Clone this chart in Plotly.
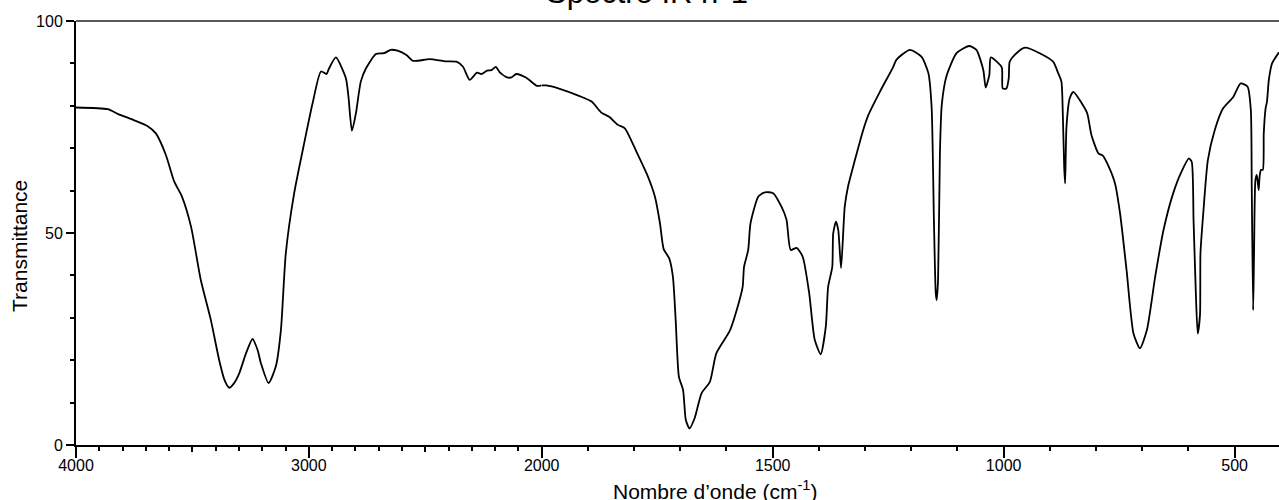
import numpy as np
import plotly.graph_objects as go

# Wavenumber (cm-1) and transmittance (%)
wavenumber = [
    4000, 3864, 3821, 3764, 3692, 3657, 3614, 3578, 3545, 3506, 3464, 3421, 3385, 3362,
    3342, 3321, 3299, 3270, 3242, 3220, 3206, 3173, 3142, 3120, 3099, 3063, 3020, 2984,
    2948, 2924, 2915, 2884, 2841, 2830, 2815, 2798, 2777, 2755, 2712, 2677, 2648, 2619,
    2581, 2552, 2481, 2416, 2366, 2338, 2309, 2278, 2259, 2235, 2216, 2197, 2180, 2149,
    2130, 2109, 2066, 2020, 2000,
    1990, 1961, 1918, 1892, 1871, 1854, 1835, 1820, 1795, 1770, 1755, 1744, 1736, 1724,
    1716, 1710, 1703, 1694, 1688, 1680, 1669, 1654, 1636, 1622, 1593, 1578, 1565, 1562,
    1553, 1548, 1531, 1517, 1499, 1481, 1470, 1461, 1448, 1435, 1421, 1409, 1396, 1385,
    1380, 1371, 1369, 1363, 1358, 1352, 1344, 1337, 1322, 1304, 1293, 1268, 1239, 1232,
    1203, 1178, 1163, 1156, 1151, 1147, 1145, 1142, 1138, 1134, 1124, 1102, 1075, 1059,
    1044, 1039, 1031, 1028, 1015, 1004, 1002, 994, 989, 987, 976, 954, 922, 893,
    882, 875, 872, 869, 867, 864, 857, 849, 831, 819, 810, 795, 785, 774,
    759, 748, 734, 719, 705, 690, 672, 654, 633, 615, 599, 593, 589, 584,
    580, 575, 574, 568, 558, 543, 525, 503, 487, 472, 465, 463, 460, 458,
    455, 452, 448, 446, 443, 439, 437, 433, 430, 426, 419, 404,
]
transmittance = [
    79.6, 79.2, 78.1, 76.9, 75.2, 73.5, 68.4, 62.1, 58.6, 51.5, 38.9, 29.5, 20.0, 15.3,
    13.5, 14.6, 16.9, 21.6, 25.0, 22.4, 19.3, 14.6, 18.5, 27.1, 45.2, 59.4, 71.2, 80.6,
    88.1, 87.5, 88.6, 91.4, 86.5, 82.2, 74.1, 78.2, 85.7, 88.8, 92.2, 92.4, 93.2, 93.0,
    92.0, 90.6, 91.0, 90.5, 90.4, 89.2, 86.1, 87.8, 87.5, 88.3, 88.4, 89.2, 87.9, 86.7,
    86.7, 87.5, 86.6, 84.7, 84.8,
    84.8, 84.0, 82.3, 81.0, 78.4, 77.4, 75.5, 74.7, 69.2, 63.3, 58.6, 52.3, 46.2, 44.0,
    39.7, 29.5, 16.1, 13.0, 5.9, 3.9, 6.3, 12.2, 14.9, 21.6, 26.9, 31.8, 37.3, 42.0,
    46.0, 52.3, 58.6, 59.6, 59.4, 56.2, 53.1, 46.0, 46.5, 44.4, 35.8, 24.8, 21.4, 27.9,
    37.3, 42.0, 49.9, 52.7, 50.7, 41.7, 56.2, 60.9, 67.2, 74.3, 77.8, 83.3, 89.2, 90.9,
    93.2, 91.6, 87.7, 79.8, 53.1, 35.8, 34.2, 38.9, 68.8, 80.2, 86.9, 92.4, 94.1, 93.2,
    88.4, 84.3, 87.3, 91.4, 90.4, 89.0, 84.1, 84.1, 86.5, 90.4, 92.0, 93.7, 92.4, 90.4,
    87.7, 85.7, 78.2, 65.6, 61.7, 75.1, 81.8, 83.3, 80.6, 78.2, 73.1, 68.8, 68.2, 66.0,
    61.7, 54.6, 41.3, 26.3, 22.8, 27.1, 39.7, 50.7, 59.4, 64.5, 67.6, 66.8, 53.1, 35.8,
    26.3, 30.7, 45.2, 54.6, 67.2, 74.3, 79.4, 82.1, 85.3, 84.5, 79.0, 60.9, 31.8, 45.2,
    62.5, 63.7, 60.1, 63.3, 64.9, 64.9, 73.5, 79.4, 81.0, 86.1, 90.0, 92.6,
]

left_ticks = [4000, 3000]
left_mid_ticks = [3500, 2500]
break_point = 2000
x_end = 404

title_text = "Spectre IR n°1"
x_title = "Nombre d’onde (cm<sup>-1</sup>)"
y_title = "Transmittance"

W, H = 1279, 500
ML, MR, MT, MB = 76, 0, 21, 55
plot_w = W - ML - MR
split = (541.7 - ML) / plot_w

w = np.array(wavenumber, dtype=float)
t = np.array(transmittance, dtype=float)
lm = w >= break_point
rm = w <= break_point

FONT = "Liberation Sans, Arial, sans-serif"
line = dict(color="black", width=1.8, shape="spline", smoothing=0.6)

fig = go.Figure()
fig.add_trace(go.Scatter(x=w[lm], y=t[lm], mode="lines", line=line,
                         xaxis="x", yaxis="y", showlegend=False, hoverinfo="skip"))
fig.add_trace(go.Scatter(x=w[rm], y=t[rm], mode="lines", line=line,
                         xaxis="x2", yaxis="y", showlegend=False, hoverinfo="skip"))
# carrier for the medium-length tick axis
fig.add_trace(go.Scatter(x=w[lm], y=t[lm], mode="lines",
                         line=dict(color="rgba(0,0,0,0)", width=0),
                         xaxis="x3", yaxis="y", showlegend=False, hoverinfo="skip"))

common_x = dict(showgrid=False, zeroline=False, ticks="outside", tickcolor="black",
                tickwidth=1.5, ticklen=11, showline=True, linecolor="black",
                linewidth=2, anchor="y",
                tickfont=dict(family=FONT, size=16, color="black"),
                ticklabelstandoff=-6)
minor = dict(dtick=100, tick0=0, ticks="outside", ticklen=4, tickwidth=1.5,
             tickcolor="black")

fig.update_layout(
    width=W, height=H,
    margin=dict(l=ML, r=MR, t=MT, b=MB, pad=0),
    paper_bgcolor="white", plot_bgcolor="white",
    xaxis=dict(domain=[0, split], range=[4000, break_point], tickmode="array",
               tickvals=left_ticks, ticktext=[str(v) for v in left_ticks],
               minor=minor, **common_x),
    xaxis2=dict(domain=[split, 1], range=[break_point, x_end], tickmode="linear",
                tick0=0, dtick=500, minor=minor, **common_x),
    xaxis3=dict(overlaying="x", range=[4000, break_point], tickmode="array",
                tickvals=left_mid_ticks, showticklabels=False, ticks="outside",
                ticklen=6, tickwidth=1.5, tickcolor="black", showline=False,
                showgrid=False, zeroline=False, anchor="y"),
    yaxis=dict(range=[0, 100], tickmode="array", tickvals=[0, 50, 100],
               ticks="outside", ticklen=8, tickwidth=1.5, tickcolor="black",
               showline=True, linecolor="black", linewidth=2, showgrid=False,
               zeroline=False, anchor="x",
               minor=dict(dtick=10, tick0=0, ticks="outside", ticklen=4,
                          tickwidth=1.5, tickcolor="black"),
               tickfont=dict(family=FONT, size=16, color="black")),
    shapes=[dict(type="line", xref="paper", yref="paper", x0=0, x1=1, y0=1, y1=1,
                 line=dict(color="#222", width=1.5))],
    annotations=[
        dict(text=title_text, xref="paper", yref="paper",
             x=(647 - ML) / plot_w, y=(445 - 12) / 424, xanchor="center",
             yanchor="bottom", showarrow=False,
             font=dict(family=FONT, size=31, color="black")),
        dict(text=x_title, xref="paper", yref="paper",
             x=(715 - ML) / plot_w, y=(445 - 490) / 424, xanchor="center",
             yanchor="middle", showarrow=False,
             font=dict(family=FONT, size=21, color="black")),
        dict(text=y_title, xref="paper", yref="paper",
             x=(19.5 - ML) / plot_w, y=(445 - 246.5) / 424, xanchor="center",
             yanchor="middle", textangle=-90, showarrow=False,
             font=dict(family=FONT, size=21, color="black")),
    ],
)

fig.write_html("out.html")
